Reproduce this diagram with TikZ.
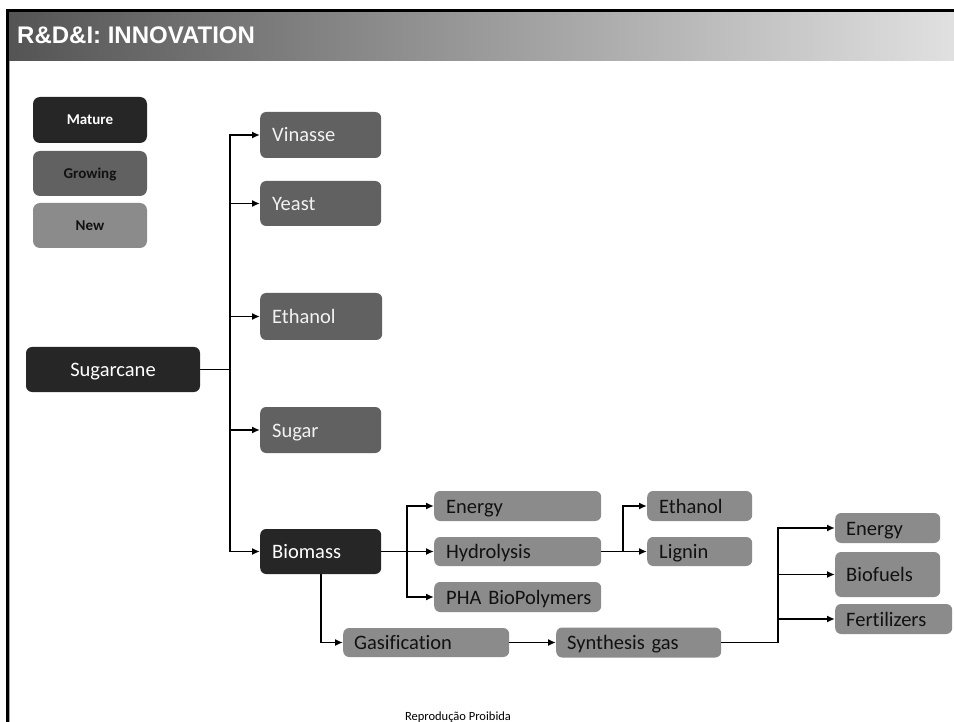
\documentclass[tikz,border=0pt]{standalone}
\usepackage{fontspec}
\setmainfont{Carlito}[Ligatures=NoCommon]
\newfontfamily\titlefont{Liberation Sans}
\usetikzlibrary{arrows.meta}
\definecolor{maturec}{HTML}{262626}
\definecolor{growingc}{HTML}{616161}
\definecolor{newc}{HTML}{8B8B8B}
\definecolor{txtdark}{HTML}{111111}
\begin{document}
\begin{tikzpicture}[x=1pt,y=-1pt,
  legendbox/.style={minimum width=114pt, minimum height=46pt, inner sep=0pt, rounded corners=7pt, text height=12pt, text depth=2pt, font=\bfseries\fontsize{15}{17}\selectfont},
  box/.style={rounded corners=6pt, inner xsep=12pt, inner ysep=0pt, anchor=west, align=left, text height=18pt, text depth=4pt, font=\fontsize{20.5}{23}\selectfont},
  mat/.style={fill=maturec, text=white},
  gro/.style={fill=growingc, text=white!95!black},
  nw/.style={fill=newc, text=txtdark},
  conn/.style={line width=1.8pt},
  arr/.style={line width=1.8pt, -{Latex[length=8pt,width=7pt]}}
]
\useasboundingbox (0,0) rectangle (954,722);
% header
\shade[left color=black!67, right color=black!12] (8,12) rectangle (954,61);
\draw[line width=3pt] (6,10.5) -- (954,10.5);
\draw[line width=2.5pt] (7.25,9) -- (7.25,722);
\draw[black!35, line width=1pt] (9.5,61) -- (9.5,722);
\node[anchor=base west, text=white, font=\titlefont\bfseries\fontsize{24}{26}\selectfont, inner sep=0pt] (title) at (17,44) {R\&D\&I: INNOVATION};

% legend
\node[legendbox, mat] (mature) at (90,120) {Mature};
\node[legendbox, fill=growingc, text=txtdark, minimum height=45pt] (growing) at (90,173.5) {Growing};
\node[legendbox, nw, minimum height=45pt] (new) at (90,225.5) {New};

% main nodes
\node[box, mat, anchor=center, inner xsep=0pt, minimum width=174pt, minimum height=45pt] (sugarcane) at (113,369.5) {Sugarcane};
\node[box, gro, text width=97pt, minimum height=46pt] (vinasse) at (260,135) {Vinasse};
\node[box, gro, text width=97pt, minimum height=45pt] (yeast) at (260,203.5) {Yeast};
\node[box, gro, text width=98pt, minimum height=47pt] (ethanol) at (260,316.5) {Ethanol};
\node[box, gro, text width=97pt, minimum height=46pt] (sugar) at (260,430) {Sugar};
\node[box, mat, text width=97pt, minimum height=45pt] (biomass) at (260,551.5) {Biomass};

\node[box, nw, text width=143pt, minimum height=30pt] (energy) at (434,506) {Energy};
\node[box, nw, text width=143pt, minimum height=29pt] (hydrolysis) at (434,551.5) {Hydrolysis};
\node[box, nw, text width=143pt, minimum height=30pt] (pha) at (434,597) {\mbox{PHA BioPolymers}};

\node[box, nw, text width=81pt, minimum height=30pt] (ethanol2) at (647,506) {Ethanol};
\node[box, nw, text width=81pt, minimum height=29pt] (lignin) at (647,551.5) {Lignin};

\node[box, nw, text width=144pt, minimum height=29pt, inner xsep=11pt] (gasification) at (343,642.5) {Gasification};
\node[box, nw, text width=143pt, minimum height=30pt, inner xsep=11pt] (synthesis) at (556,642.5) {\mbox{Synthesis gas}};

\node[box, nw, text width=83pt, minimum height=30pt, inner xsep=11pt] (energy2) at (835,528) {Energy};
\node[box, nw, text width=83pt, minimum height=45pt, inner xsep=11pt] (biofuels) at (835,574.5) {Biofuels};
\node[box, nw, text width=95pt, minimum height=30pt, inner xsep=11pt] (fertilizers) at (835,619) {Fertilizers};

% connectors
\coordinate (t1) at (230,369.5);
\draw[conn] (sugarcane.east) -- (t1);
\foreach \n in {vinasse,yeast,ethanol,sugar,biomass}
  \draw[arr] (t1) |- (\n.west);

\coordinate (b1) at (407,551.5);
\draw[conn] (biomass.east) -- (b1);
\foreach \n in {energy,hydrolysis,pha}
  \draw[arr] (b1) |- (\n.west);

\coordinate (h1) at (623,551.5);
\draw[conn] (hydrolysis.east) -- (h1);
\foreach \n in {ethanol2,lignin}
  \draw[arr] (h1) |- (\n.west);

\draw[arr] (biomass.south) |- (gasification.west);
\draw[arr] (gasification.east) -- (synthesis.west);

\coordinate (s1) at (778,642.5);
\draw[conn] (synthesis.east) -- (s1);
\foreach \n in {energy2,biofuels,fertilizers}
  \draw[arr] (s1) |- (\n.west);

\node[font=\fontsize{12.5}{14}\selectfont, anchor=base, inner sep=0pt] (foot) at (458,720.5) {Reprodução Proibida};
\end{tikzpicture}
\end{document}
